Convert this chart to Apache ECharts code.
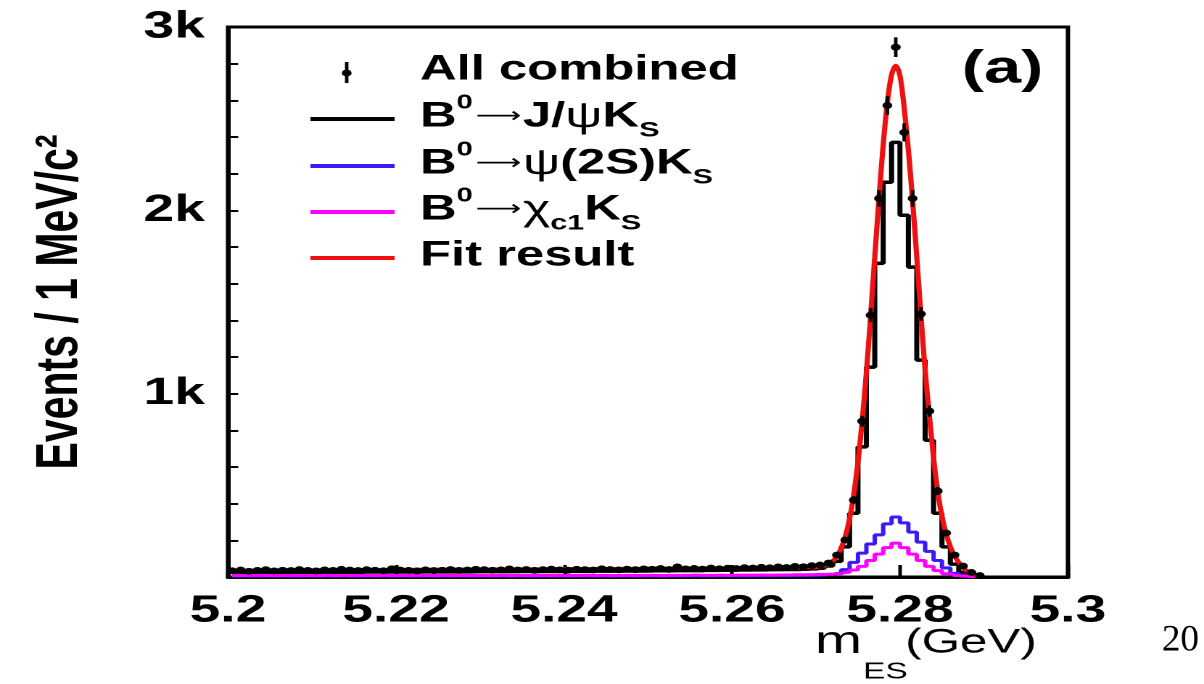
<!DOCTYPE html>
<html>
<head>
<meta charset="utf-8">
<script src="https://cdn.jsdelivr.net/npm/echarts@6/dist/echarts.min.js"></script>
<style>
    html, body { margin: 0; padding: 0; background: #fff; overflow: hidden; }
    /* the reference plot is stretched sideways, so draw narrow and stretch the whole canvas */
    #chart { width: 830px; height: 684px; transform: scaleX(1.4506); transform-origin: 0 0; }
</style>
</head>
<body>
<div id="chart"></div>
<script>
// mES histogram, 1 MeV bins from 5.200 GeV
var binStart = 5.2;
var binWidth = 0.001;

// data: all modes combined
var allCombined = [
    34, 38, 31, 36, 40, 33, 37, 35, 41, 36,
    33, 39, 36, 42, 38, 35, 40, 37, 34, 45,
    38, 36, 33, 39, 35, 37, 41, 36, 38, 42,
    40, 37, 39, 44, 38, 41, 36, 40, 43, 39,
    37, 42, 40, 38, 45, 41, 39, 43, 40, 44,
    42, 46, 41, 55, 44, 47, 43, 49, 45, 48,
    46, 51, 49, 53, 50, 55, 52, 58, 56, 62,
    65, 76, 120, 202, 420, 850, 1428, 2065, 2572, 2890,
    2425, 2065, 1435, 905, 469, 240, 120, 60, 25, 8
];

// B0 -> J/psi Ks
var jpsiKs = [
    25, 25, 25, 25, 25, 25, 25, 25, 26, 26,
    26, 26, 26, 26, 26, 26, 27, 27, 27, 27,
    27, 27, 27, 28, 28, 28, 28, 28, 28, 29,
    29, 29, 29, 29, 30, 30, 30, 30, 30, 31,
    31, 31, 31, 32, 32, 32, 32, 33, 33, 33,
    34, 34, 34, 35, 35, 35, 36, 36, 37, 37,
    38, 38, 39, 39, 40, 40, 41, 41, 42, 44,
    48, 60, 85, 164, 348, 710, 1145, 1711, 2153, 2371,
    1973, 1690, 1183, 746, 348, 164, 70, 25, 8, 2
];

// B0 -> psi(2S) Ks
var psi2sKs = [
    5, 6, 5, 5, 6, 5, 6, 5, 5, 6,
    5, 6, 5, 6, 5, 5, 6, 5, 6, 5,
    6, 5, 5, 6, 5, 6, 5, 6, 5, 5,
    6, 5, 6, 5, 6, 5, 5, 6, 5, 6,
    5, 6, 6, 5, 6, 5, 6, 6, 5, 6,
    6, 5, 6, 6, 7, 6, 6, 7, 6, 7,
    7, 6, 7, 7, 7, 8, 7, 8, 8, 9,
    10, 14, 20, 40, 80, 130, 180, 230, 290, 327,
    295, 245, 190, 140, 90, 50, 20, 8, 3, 1
];

// B0 -> chi_c1 Ks
var chic1Ks = [
    8, 8, 8, 9, 8, 8, 8, 9, 8, 8,
    8, 9, 8, 8, 8, 9, 8, 8, 9, 8,
    8, 8, 9, 8, 8, 9, 8, 8, 8, 9,
    8, 8, 9, 8, 8, 8, 9, 8, 8, 9,
    8, 8, 9, 8, 9, 8, 8, 9, 8, 9,
    9, 8, 9, 9, 9, 10, 9, 9, 10, 9,
    10, 10, 10, 11, 10, 11, 11, 12, 12, 13,
    14, 15, 18, 25, 38, 58, 90, 125, 160, 185,
    160, 125, 90, 58, 35, 18, 8, 4, 2, 1
];

// fit result curve
var fitMass = [
    5.200, 5.210, 5.220, 5.230, 5.240, 5.250, 5.255, 5.260, 5.265, 5.268,
    5.270, 5.2705, 5.271, 5.2715, 5.272, 5.2725, 5.273, 5.2735, 5.274, 5.2745,
    5.275, 5.2755, 5.276, 5.2765, 5.277, 5.2775, 5.278, 5.2785, 5.279, 5.2795,
    5.280, 5.2805, 5.281, 5.2815, 5.282, 5.2825, 5.283, 5.2835, 5.284, 5.2845,
    5.285, 5.2855, 5.286, 5.2865, 5.287, 5.2875, 5.288, 5.2885, 5.289, 5.2895
];
var fitEvents = [
    36, 38, 40, 42, 44, 46, 47, 48, 50, 51,
    53, 56, 61, 70, 87, 114, 157, 223, 318, 451,
    627, 850, 1114, 1420, 1744, 2064, 2355, 2588, 2739, 2790,
    2735, 2560, 2330, 2055, 1745, 1425, 1125, 880, 650, 465,
    330, 235, 165, 115, 80, 52, 32, 18, 8, 2
];

var xTickLabels = ['5.2', '5.22', '5.24', '5.26', '5.28', '5.3'];
var yTickLabels = ['', '1k', '2k', '3k'];

var legendRows = [
    '{t|All combined}',
    '{t|B}{sup|0}{ar|\u27f6}{t|J/}{g|\u03c8}{t|K}{sub|S}',
    '{t|B}{sup|0}{ar|\u27f6}{g|\u03c8}{t|(2S)K}{sub|S}',
    '{t|B}{sup|0}{ar|\u27f6}{g|\u03c7}{sub|c1}{t|K}{sub|S}',
    '{t|Fit result}'
];
var legendColors = ['#000', '#000', '#3d1af5', '#ff00ff', '#ee1111'];

var FONT = 'Liberation Sans, Arial, sans-serif';

function pairs(xs, ys) {
    return ys.map(function (v, i) { return [xs[i], v]; });
}

var binCenters = allCombined.map(function (v, i) {
    return +(binStart + binWidth * (i + 0.5)).toFixed(4);
});

var legendRich = {
    t: {fontFamily: FONT, fontWeight: 'bold', fontSize: 35, lineHeight: 48, verticalAlign: 'middle', fill: '#000'},
    sup: {fontFamily: FONT, fontWeight: 'bold', fontSize: 20, lineHeight: 28, verticalAlign: 'top', fill: '#000'},
    sub: {fontFamily: FONT, fontWeight: 'bold', fontSize: 21, lineHeight: 18, verticalAlign: 'bottom', fill: '#000'},
    ar: {fontFamily: 'DejaVu Sans', fontSize: 22, lineHeight: 48, verticalAlign: 'middle', fill: '#000', padding: [0, 1, 0, 2]},
    g: {fontFamily: FONT, fontSize: 36, lineHeight: 48, verticalAlign: 'middle', fill: '#000'}
};

function buildLegend() {
    var rowsY = [70, 117, 164, 210, 256];
    var out = [];
    rowsY.forEach(function (y, i) {
        if (i === 0) {
            // error bar marker for the data
            out.push({type: 'line', shape: {x1: 239, y1: 62, x2: 239, y2: 83}, style: {stroke: '#000', lineWidth: 2.4}});
            out.push({type: 'circle', shape: {cx: 239, cy: 73, r: 3.4}, style: {fill: '#000'}});
        } else {
            out.push({type: 'line', shape: {x1: 214, y1: y + 2, x2: 272, y2: y + 2},
                style: {stroke: legendColors[i], lineWidth: 4}});
        }
        out.push({type: 'text', x: 289.5, y: y,
            style: {text: legendRows[i], rich: legendRich, align: 'left', verticalAlign: 'middle',
                textAlign: 'left', textVerticalAlign: 'middle'}});
    });
    return out;
}

var chart = echarts.init(document.getElementById('chart'), null, {devicePixelRatio: 2});

var option = {
    animation: false,
    backgroundColor: '#fff',
    grid: {
        left: 157.2, right: 93.8, top: 27, bottom: 107,
        show: true, borderColor: '#000', borderWidth: 3,
        containLabel: false, outerBoundsMode: 'none'
    },
    xAxis: {
        type: 'value', min: 5.2, max: 5.3, interval: 0.02,
        axisLine: {lineStyle: {color: '#000', width: 3}},
        axisTick: {inside: true, length: 12, lineStyle: {color: '#000', width: 2.5}},
        splitLine: {show: false},
        axisLabel: {
            margin: 15, color: '#000', fontFamily: FONT, fontWeight: 'bold', fontSize: 38,
            formatter: function (v) { return xTickLabels[Math.round((v - 5.2) / 0.02)]; }
        }
    },
    yAxis: {
        type: 'value', min: 0, max: 3000, interval: 1000,
        name: 'Events / 1 MeV/c\u00b2', nameLocation: 'middle', nameGap: 95, nameRotate: 90,
        nameTextStyle: {color: '#000', fontFamily: FONT, fontWeight: 'bold', fontSize: 41},
        axisLine: {lineStyle: {color: '#000', width: 3}},
        axisTick: {inside: true, length: 7, lineStyle: {color: '#000', width: 2}},
        minorTick: {show: true, splitNumber: 5, length: 7, lineStyle: {color: '#000', width: 2}},
        splitLine: {show: false},
        minorSplitLine: {show: false},
        axisLabel: {
            margin: 16, color: '#000', fontFamily: FONT, fontWeight: 'bold', fontSize: 38,
            formatter: function (v) { return yTickLabels[Math.round(v / 1000)]; }
        }
    },
    series: [
        {
            name: 'B0 -> J/psi Ks', type: 'line', step: 'middle', symbol: 'none',
            data: pairs(binCenters, jpsiKs),
            lineStyle: {color: '#000', width: 3.5}, z: 2
        },
        {
            name: 'B0 -> psi(2S) Ks', type: 'line', step: 'middle', symbol: 'none',
            data: pairs(binCenters, psi2sKs),
            lineStyle: {color: '#3d1af5', width: 3}, z: 3
        },
        {
            name: 'B0 -> chi_c1 Ks', type: 'line', step: 'middle', symbol: 'none',
            data: pairs(binCenters, chic1Ks),
            lineStyle: {color: '#ff00ff', width: 3}, z: 4
        },
        {
            name: 'Fit result', type: 'line', smooth: 0.3, symbol: 'none',
            data: pairs(fitMass, fitEvents),
            lineStyle: {color: '#ee1111', width: 3.6}, z: 5
        },
        {
            name: 'All combined', type: 'custom', z: 6,
            data: pairs(binCenters, allCombined),
            renderItem: function (params, api) {
                var x = api.value(0), y = api.value(1);
                var err = Math.sqrt(y);
                var top = api.coord([x, y + err]);
                var bot = api.coord([x, Math.max(0, y - err)]);
                var c = api.coord([x, y]);
                return {
                    type: 'group',
                    children: [
                        {type: 'line', shape: {x1: top[0], y1: top[1], x2: bot[0], y2: bot[1]},
                            style: {stroke: '#000', lineWidth: 2.4}},
                        {type: 'circle', shape: {cx: c[0], cy: c[1], r: 3.4}, style: {fill: '#000'}}
                    ]
                };
            }
        }
    ],
    graphic: buildLegend().concat([
        {type: 'text', x: 663, y: 70,
            style: {text: '(a)', fontFamily: FONT, fontWeight: 'bold', fontSize: 46, fill: '#000',
                align: 'left', verticalAlign: 'middle', textAlign: 'left', textVerticalAlign: 'middle'}},
        // slide text under the plot
        {type: 'text', x: 561.8, y: 642,
            style: {text: 'm', fontFamily: FONT, fontSize: 39, fill: '#000',
                align: 'left', verticalAlign: 'middle', textAlign: 'left', textVerticalAlign: 'middle'}},
        {type: 'text', x: 595, y: 672,
            style: {text: 'ES', fontFamily: FONT, fontSize: 23, fill: '#000',
                align: 'left', verticalAlign: 'middle', textAlign: 'left', textVerticalAlign: 'middle'}},
        {type: 'text', x: 624, y: 643,
            style: {text: '(GeV)', fontFamily: FONT, fontSize: 34, fill: '#000',
                align: 'left', verticalAlign: 'middle', textAlign: 'left', textVerticalAlign: 'middle'}},
        {type: 'text', x: 801, y: 641, scaleX: 0.689,
            style: {text: '20', fontFamily: 'Liberation Serif, Times New Roman, serif', fontSize: 37, fill: '#000',
                align: 'left', verticalAlign: 'middle', textAlign: 'left', textVerticalAlign: 'middle'}}
    ])
};

chart.setOption(option);
</script>
</body>
</html>
